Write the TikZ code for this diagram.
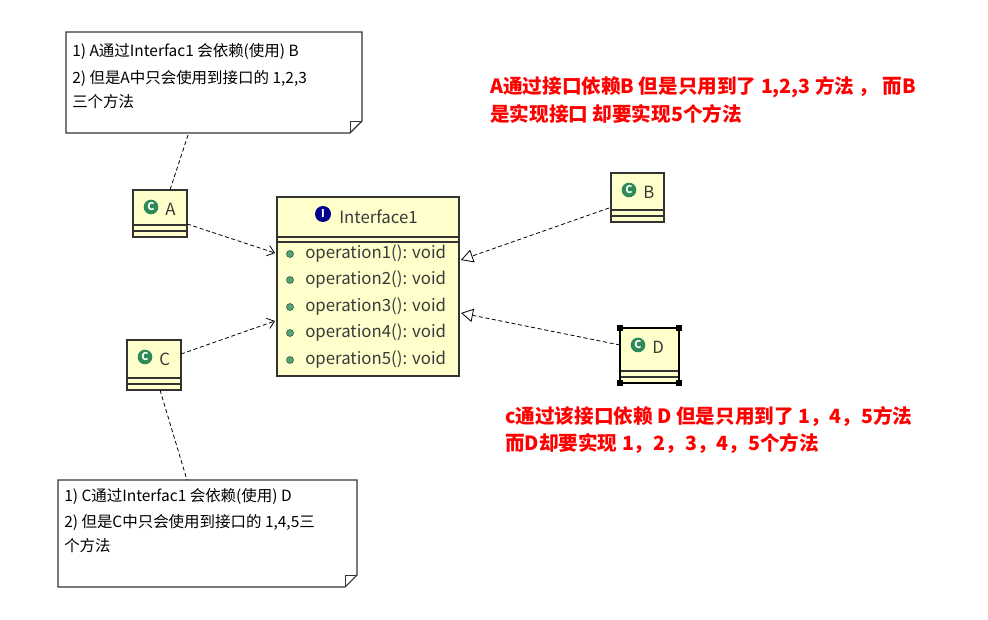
\documentclass[tikz,border=0pt]{standalone}
\usepackage{fontspec}
\setmainfont{Noto Sans CJK SC}
\usetikzlibrary{arrows.meta}
\definecolor{cls}{HTML}{FFFFCC}
\definecolor{gr}{HTML}{2E8B57}
\definecolor{ttxt}{HTML}{3A3A3A}
\tikzset{
 box/.style={draw=black!80,line width=0.9pt,fill=cls},
 dep/.style={densely dashed,black,line width=0.6pt,-{Straight Barb[length=5pt,width=8pt]}},
 real/.style={densely dashed,black,line width=0.6pt,-{Triangle[open,length=9pt,width=10pt,fill=white]}},
 lnk/.style={densely dashed,black,line width=0.6pt},
 note/.style={draw=black!80,fill=white,line width=0.8pt},
 ntxt/.style={anchor=west,font=\fontsize{11.6pt}{13pt}\selectfont,inner sep=0pt},
 redtxt/.style={anchor=west,text=red,font=\bfseries\fontsize{14.7pt}{17pt}\selectfont,inner sep=0pt},
 op/.style={anchor=west,text=ttxt,font=\fontsize{12.6pt}{14pt}\selectfont,inner sep=0pt},
 cicon/.style={circle,fill=gr,inner sep=0pt,minimum size=11pt,text=white,font=\bfseries\fontsize{8pt}{8pt}\selectfont},
 clab/.style={text=ttxt,font=\fontsize{12.6pt}{14pt}\selectfont,anchor=west,inner sep=0pt},
}
\newcommand{\umlcbox}[6]{%
 \draw[box] (#2,#3) rectangle (#4,#5);
 \draw[black!80,line width=0.8pt] (#2,#5-12) -- (#4,#5-12) (#2,#5-6) -- (#4,#5-6);
 \node[cicon] (#1i) at (#2+18,#3+17) {C};
 \node[clab] (#1) at (#2+32,#3+19) {#6};}
\begin{document}
\begin{tikzpicture}[x=0.75pt,y=-0.75pt]
\useasboundingbox (0,0) rectangle (988,620);
% note 1
\draw[note] (66,32) -- (362,32) -- (362,121) -- (350,133) -- (66,133) -- cycle;
\draw[black!80] (350,133) -- (350,121) -- (362,121);
\node[ntxt] (n1a) at (72,52) {1) A通过Interfac1 会依赖(使用) B};
\node[ntxt] (n1b) at (72,78) {2) 但是A中只会使用到接口的 1,2,3};
\node[ntxt] (n1c) at (72,102) {三个方法};
\coordinate (n1) at (188,135);
% note 2
\draw[note] (58,480) -- (357,480) -- (357,575) -- (345,587) -- (58,587) -- cycle;
\draw[black!80] (345,587) -- (345,575) -- (357,575);
\node[ntxt] (n2a) at (64,497) {1) C通过Interfac1 会依赖(使用) D};
\node[ntxt] (n2b) at (64,522) {2) 但是C中只会使用到接口的 1,4,5三};
\node[ntxt] (n2c) at (64,546) {个方法};
\coordinate (n2) at (187,480);
% classes
\umlcbox{A}{133}{190}{187}{237}{A}
\umlcbox{B}{611}{173}{664}{222}{B}
\umlcbox{C}{127}{340}{181}{390}{C}
\umlcbox{D}{620}{328}{679}{383}{D}
\draw[line width=1.2pt] (620,328) rectangle (679,383);
\foreach \px/\py in {620/328,679/328,620/383,679/383} \fill (\px-3,\py-3) rectangle (\px+3,\py+3);
% interface
\draw[box] (277,197) rectangle (459,376);
\draw[black!80,line width=0.8pt] (277,237) -- (459,237) (277,242) -- (459,242);
\node[circle,fill=blue!55!black,inner sep=0pt,minimum size=12pt,text=white,font=\bfseries\fontsize{8pt}{8pt}\selectfont] (ii) at (323,214) {I};
\node[clab] (I) at (339,217) {Interface1};
\foreach \i/\y in {1/254,2/280,3/307,4/333,5/360}{
 \fill[gr!80!white,draw=gr!60!black] (290,\y) circle (3.5);
 \node[op] at (305,\y) {operation\i(): void};}
\coordinate (iA) at (275,253);
\coordinate (iC) at (275,321);
\coordinate (iB) at (461,260);
\coordinate (iD) at (461,313);
\coordinate (aS) at (187,224);
\coordinate (cS) at (181,354);
\coordinate (bS) at (609,208);
\coordinate (dS) at (620,345);
\coordinate (aT) at (170,190);
\coordinate (cB) at (160,390);
\draw[dep] (aS) -- (iA);
\draw[dep] (cS) -- (iC);
\draw[real] (bS) -- (iB);
\draw[real] (dS) -- (iD);
\draw[lnk] (n1) -- (aT);
\draw[lnk] (cB) -- (n2);
% red texts
\node[redtxt] (r1) at (490,87) {A通过接口依赖B 但是只用到了 1,2,3 方法 ， 而B};
\node[redtxt] (r2) at (490,114) {是实现接口 却要实现5个方法};
\node[redtxt] (r3) at (505,416) {c通过该接口依赖 D 但是只用到了 1，4，5方法};
\node[redtxt] (r4) at (505,443) {而D却要实现 1，2，3，4，5个方法};
\end{tikzpicture}
\end{document}
